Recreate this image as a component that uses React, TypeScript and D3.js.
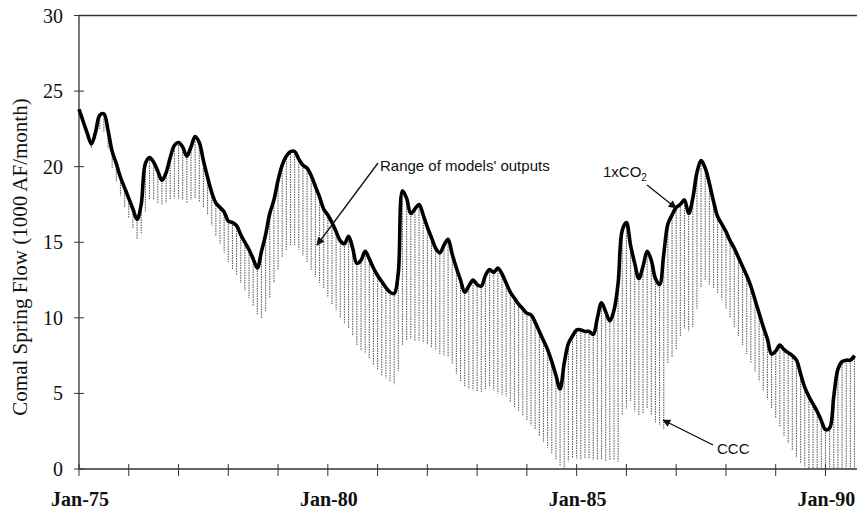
import { useEffect, useRef } from "react";
import * as d3 from "d3";

// monthly values, Jan-75 .. Aug-90 (1000 AF/month)
const upper1xCO2: number[] = [
  23.8, 23.0, 22.2, 21.5, 22.3, 23.4, 23.5, 22.4, 21.0, 20.2,
  19.3, 18.6, 17.9, 17.2, 16.5, 17.5, 20.2, 20.6, 20.3, 19.7,
  19.1, 19.6, 20.6, 21.4, 21.6, 21.3, 20.7, 21.3, 22.0, 21.6,
  20.4, 19.3, 18.3, 17.6, 17.3, 17.0, 16.4, 16.3, 16.1, 15.5,
  15.0, 14.5, 13.9, 13.3, 14.4, 15.5, 16.9, 17.8, 19.1, 20.1,
  20.7, 21.0, 21.0, 20.5, 20.1, 19.9, 19.4, 18.7, 18.0, 17.2,
  16.8, 16.3, 15.7, 15.1, 14.9, 15.4, 14.6, 13.6, 13.8, 14.4,
  13.9, 13.3, 12.8, 12.4, 12.0, 11.7, 11.6, 13.0, 18.4, 17.9,
  16.9, 17.2, 17.5, 16.8, 16.0, 15.3, 14.6, 14.3, 14.8, 15.2,
  14.2, 13.3, 12.5, 11.7, 12.1, 12.5, 12.2, 12.1, 12.8, 13.2,
  13.0, 13.3, 12.9, 12.3, 11.7, 11.3, 10.9, 10.6, 10.3, 10.2,
  9.7, 9.1, 8.5, 7.9, 7.1, 6.2, 5.3, 7.0, 8.3, 8.8,
  9.2, 9.2, 9.1, 9.1, 8.9, 10.0, 11.0, 10.4, 9.8, 10.5,
  12.3, 15.8, 16.3, 14.8, 13.6, 12.6, 13.4, 14.4, 13.8, 12.6,
  12.2, 14.2, 16.2, 16.8, 17.3, 17.5, 17.8, 16.9, 17.9, 19.6,
  20.4, 19.9, 18.9, 17.7, 16.7, 16.2, 15.7, 15.1, 14.6, 14.0,
  13.4, 12.8, 12.1, 11.2, 10.3, 9.4, 8.6, 7.6, 7.8, 8.2,
  7.9, 7.7, 7.5, 7.2, 6.3, 5.4, 4.8, 4.3, 3.8, 3.2,
  2.6, 2.7, 4.8, 6.6, 7.1, 7.2, 7.2, 7.5,
];

const lowerCCC: number[] = [
  23.6, 22.8, 22.0, 21.2, 21.8, 22.5, 22.3, 21.2, 19.9, 19.0,
  18.1, 17.3, 16.6, 15.9, 15.2, 15.6, 17.0, 17.8, 17.8, 17.6,
  17.5, 17.6, 17.8, 17.9, 17.9, 17.8, 17.6, 17.8, 17.9, 17.7,
  17.3, 16.8, 16.1, 15.4, 14.9, 14.3, 13.7, 13.2, 12.8, 12.3,
  11.8, 11.3, 10.8, 10.2, 10.0, 10.4, 11.3, 12.3, 13.2, 14.0,
  14.5, 14.8, 14.8, 14.5, 14.1, 13.7, 13.2, 12.7, 12.3, 11.9,
  11.4, 10.9, 10.5, 10.0, 9.6, 9.3, 8.8, 8.2, 7.8, 7.7,
  7.3, 6.9, 6.6, 6.2, 6.0, 5.8, 5.6, 6.5, 8.2, 8.5,
  8.6, 8.5, 8.5, 8.4, 8.2, 8.0, 7.9, 7.6, 7.5, 7.4,
  7.0, 6.3, 5.8, 5.4, 5.3, 5.2, 5.1, 5.1, 5.3, 5.4,
  5.2, 5.0, 4.9, 4.8, 4.4, 4.1, 3.8, 3.5, 3.2, 2.9,
  2.6, 2.2, 1.8, 1.4, 1.0, 0.6, 0.2, 0.0, 0.5, 0.7,
  0.7, 0.6, 0.7, 0.7, 0.6, 0.6, 0.6, 0.5, 0.6, 0.6,
  0.5, 3.6, 4.0, 4.5, 3.8, 3.5, 3.7, 4.0, 3.6, 3.1,
  2.9, 2.6, 7.0, 7.4, 7.9, 8.8, 9.3, 9.1, 9.4, 10.6,
  12.0, 12.5, 12.2, 11.9, 11.6, 11.2, 10.6, 10.0, 9.4, 8.8,
  8.2, 7.6, 7.0, 6.4, 5.8, 5.2, 4.6, 4.0, 3.4, 2.8,
  2.2, 1.7, 1.2, 0.8, 0.4, 0.1, 0.0, 0.0, 0.0, 0.0,
  0.0, 0.0, 0.0, 0.0, 0.0, 0.0, 0.0, 0.0,
];

const yTicks = [0, 5, 10, 15, 20, 25, 30];
const xLabels = ["Jan-75", "Jan-80", "Jan-85", "Jan-90"];

const W = 857;
const H = 516;

function App() {
  const svgRef = useRef<SVGSVGElement | null>(null);

  useEffect(() => {
    const svg = d3.select(svgRef.current);
    svg.selectAll("*").remove();

    const x = d3.scaleLinear().domain([0, 187.6]).range([79, 857]);
    const y = d3.scaleLinear().domain([0, 30]).range([469, 15.5]);
    const axisColor = "#333";

    const defs = svg.append("defs");
    defs.append("marker")
      .attr("id", "arrowhead")
      .attr("viewBox", "0 0 10 10")
      .attr("refX", 9)
      .attr("refY", 5)
      .attr("markerWidth", 10)
      .attr("markerHeight", 8)
      .attr("markerUnits", "userSpaceOnUse")
      .attr("orient", "auto")
      .append("path")
      .attr("d", "M0,0L10,5L0,10Z")
      .attr("fill", "#111");

    // top frame line
    svg.append("line")
      .attr("x1", x(0)).attr("x2", W)
      .attr("y1", y(30)).attr("y2", y(30))
      .attr("stroke", axisColor).attr("stroke-width", 1.3);

    // range hatching, one high-low line per month
    svg.append("g")
      .selectAll("line")
      .data(upper1xCO2)
      .join("line")
      .attr("x1", (_, i) => x(i))
      .attr("x2", (_, i) => x(i))
      .attr("y1", (d) => y(d))
      .attr("y2", (_, i) => y(lowerCCC[i]))
      .attr("stroke", "#5e5e5e")
      .attr("stroke-width", 1.1)
      .attr("stroke-dasharray", "1.5 1");

    // y axis
    const yAxis = svg.append("g").attr("font-family", "'Liberation Serif', 'Times New Roman', serif");
    yAxis.append("line")
      .attr("x1", x(0)).attr("x2", x(0))
      .attr("y1", y(0)).attr("y2", y(30))
      .attr("stroke", axisColor).attr("stroke-width", 1.3);
    yTicks.forEach((t) => {
      yAxis.append("line")
        .attr("x1", x(0) - 5).attr("x2", x(0) + 5)
        .attr("y1", y(t)).attr("y2", y(t))
        .attr("stroke", axisColor).attr("stroke-width", 1);
      yAxis.append("text")
        .attr("x", 63)
        .attr("y", y(t))
        .attr("dy", "0.35em")
        .attr("text-anchor", "end")
        .attr("font-size", 20)
        .attr("fill", "#111")
        .text(t);
    });

    // x axis
    const xAxis = svg.append("g").attr("font-family", "'Liberation Serif', 'Times New Roman', serif");
    xAxis.append("line")
      .attr("x1", x(0)).attr("x2", W)
      .attr("y1", y(0)).attr("y2", y(0))
      .attr("stroke", axisColor).attr("stroke-width", 1.3);
    d3.range(0, 188, 12).forEach((m) => {
      xAxis.append("line")
        .attr("x1", x(m)).attr("x2", x(m))
        .attr("y1", y(0) - 5).attr("y2", y(0) + 7)
        .attr("stroke", axisColor).attr("stroke-width", 1);
    });
    xLabels.forEach((label, i) => {
      xAxis.append("text")
        .attr("x", x(i * 60) + 1)
        .attr("y", 506)
        .attr("text-anchor", "middle")
        .attr("font-size", 20)
        .attr("font-weight", "bold")
        .attr("fill", "#111")
        .text(label);
    });

    // y title
    svg.append("text")
      .attr("transform", `translate(27, 257) rotate(-90)`)
      .attr("text-anchor", "middle")
      .attr("font-family", "'Liberation Serif', 'Times New Roman', serif")
      .attr("font-size", 21)
      .attr("fill", "#111")
      .text("Comal Spring Flow (1000 AF/month)");

    // 1xCO2 line
    const line = d3.line<number>()
      .x((_, i) => x(i))
      .y((d) => y(d))
      .curve(d3.curveCatmullRom.alpha(0.5));
    svg.append("path")
      .datum(upper1xCO2)
      .attr("d", line)
      .attr("fill", "none")
      .attr("stroke", "#000")
      .attr("stroke-width", 3.6)
      .attr("stroke-linejoin", "round");

    // annotations
    const notes = svg.append("g")
      .attr("font-family", "'Liberation Sans', Arial, sans-serif")
      .attr("font-size", 15)
      .attr("fill", "#111");

    notes.append("text").attr("x", 380).attr("y", 171).text("Range of models' outputs");
    notes.append("line")
      .attr("x1", 378).attr("y1", 163).attr("x2", 317).attr("y2", 245)
      .attr("stroke", "#111").attr("stroke-width", 1.3)
      .attr("marker-end", "url(#arrowhead)");

    const co2 = notes.append("text").attr("x", 603).attr("y", 177);
    co2.append("tspan").text("1xCO");
    co2.append("tspan").attr("font-size", 10).attr("dy", 4).text("2");
    notes.append("line")
      .attr("x1", 647).attr("y1", 185).attr("x2", 676).attr("y2", 208)
      .attr("stroke", "#111").attr("stroke-width", 1.3)
      .attr("marker-end", "url(#arrowhead)");

    notes.append("text").attr("x", 717).attr("y", 454).text("CCC");
    notes.append("line")
      .attr("x1", 713).attr("y1", 445).attr("x2", 663).attr("y2", 420)
      .attr("stroke", "#111").attr("stroke-width", 1.3)
      .attr("marker-end", "url(#arrowhead)");
  }, []);

  return (
    <svg
      ref={svgRef}
      width={W}
      height={H}
      style={{ position: "absolute", left: 0, top: 0, background: "#fff" }}
    />
  );
}

export default App;
